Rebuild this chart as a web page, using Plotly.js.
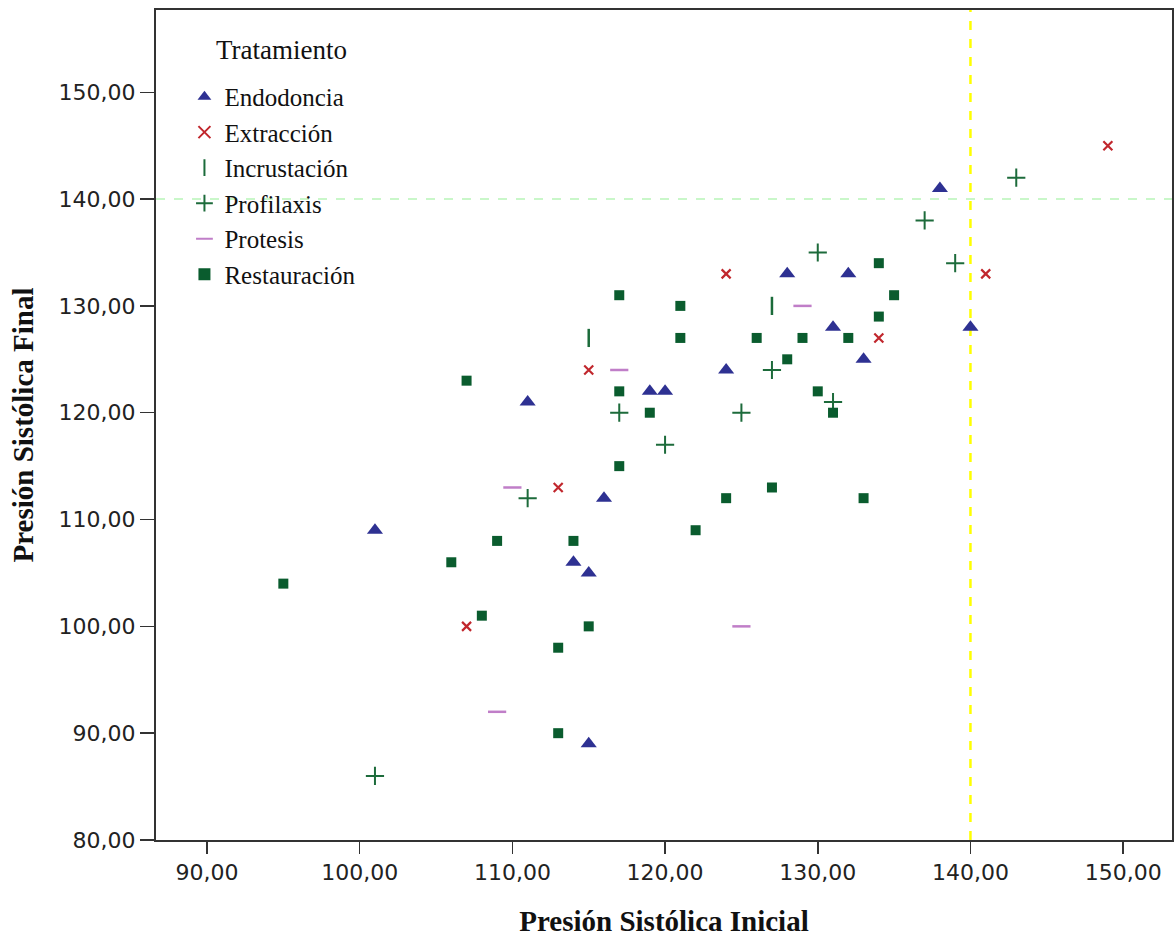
<!DOCTYPE html>
<html>
<head>
<meta charset="utf-8">
<script src="https://cdn.plot.ly/plotly-3.0.1.min.js"></script>
<style>html,body{margin:0;padding:0;background:#fff;}#chart{width:1174px;height:938px;}</style>
</head>
<body>
<div id="chart"></div>
<script>
// Data
const endodonciaX = [101, 111, 114, 115, 115, 116, 119, 120, 124, 128, 131, 132, 133, 138, 140];
const endodonciaY = [109, 121, 106, 105, 89, 112, 122, 122, 124, 133, 128, 133, 125, 141, 128];

const extraccionX = [107, 113, 115, 124, 134, 141, 149];
const extraccionY = [100, 113, 124, 133, 127, 133, 145];

const incrustacionX = [115, 127];
const incrustacionY = [127, 130];

const profilaxisX = [101, 111, 117, 120, 125, 127, 130, 131, 137, 139, 143];
const profilaxisY = [86, 112, 120, 117, 120, 124, 135, 121, 138, 134, 142];

const protesisX = [109, 110, 117, 125, 129];
const protesisY = [92, 113, 124, 100, 130];

const restauracionX = [95, 106, 107, 108, 109, 113, 113, 114, 115, 117, 117, 117, 119, 121, 121, 122, 124, 126, 127, 128, 129, 130, 131, 132, 133, 134, 134, 135];
const restauracionY = [104, 106, 123, 101, 108, 98, 90, 108, 100, 131, 122, 115, 120, 130, 127, 109, 112, 127, 113, 125, 127, 122, 120, 127, 112, 134, 129, 131];

const refX = 140;
const refY = 140;
const legendTitle = 'Tratamiento';

const traces = [
  {name: 'Endodoncia', x: endodonciaX, y: endodonciaY, type: 'scatter', mode: 'markers',
   marker: {symbol: 'triangle-up', size: 14, color: '#2e3192'}},
  {name: 'Extracción', x: extraccionX, y: extraccionY, type: 'scatter', mode: 'markers',
   marker: {symbol: 'x-thin-open', size: 9, line: {color: '#c1272d', width: 2.2}, color: '#c1272d'}},
  {name: 'Incrustación', x: incrustacionX, y: incrustacionY, type: 'scatter', mode: 'markers',
   marker: {symbol: 'line-ns-open', size: 13, line: {color: '#1b6b3a', width: 2.5}, color: '#1b6b3a'}},
  {name: 'Profilaxis', x: profilaxisX, y: profilaxisY, type: 'scatter', mode: 'markers',
   marker: {symbol: 'cross-thin-open', size: 13, line: {color: '#1d6b3b', width: 2}, color: '#1d6b3b'}},
  {name: 'Protesis', x: protesisX, y: protesisY, type: 'scatter', mode: 'markers',
   marker: {symbol: 'line-ew-open', size: 13, line: {color: '#c07ec8', width: 2.5}, color: '#c07ec8'}},
  {name: 'Restauración', x: restauracionX, y: restauracionY, type: 'scatter', mode: 'markers',
   marker: {symbol: 'square', size: 10, color: '#0a5c2e'}}
];

const tickFont = {family: 'DejaVu Sans', size: 22, color: '#222'};
const titleFont = {family: 'Liberation Serif', size: 29, color: '#111', weight: 'bold'};

const layout = {
  width: 1174, height: 938,
  margin: {l: 156, r: 2, t: 10, b: 98},
  paper_bgcolor: '#fff', plot_bgcolor: '#fff',
  separators: ',.',
  showlegend: true,
  xaxis: {
    range: [86.66, 153.2], tickvals: [90, 100, 110, 120, 130, 140, 150], tickformat: '.2f',
    showgrid: false, zeroline: false, showline: true, linecolor: '#333', linewidth: 2, mirror: true,
    ticks: 'outside', ticklen: 12, tickwidth: 1.5, tickcolor: '#333',
    tickfont: tickFont,
    title: {text: 'Presión Sistólica Inicial', font: titleFont, standoff: 26}
  },
  yaxis: {
    range: [80, 157.7], tickvals: [80, 90, 100, 110, 120, 130, 140, 150], tickformat: '.2f',
    showgrid: false, zeroline: false, showline: true, linecolor: '#333', linewidth: 2, mirror: true,
    ticks: 'outside', ticklen: 14, tickwidth: 1.5, tickcolor: '#333',
    tickfont: tickFont,
    title: {text: 'Presión Sistólica Final', font: titleFont, standoff: 16}
  },
  legend: {
    x: 0.028, y: 0.923, xanchor: 'left', yanchor: 'top',
    bgcolor: 'rgba(0,0,0,0)',
    font: {family: 'Liberation Serif', size: 25, color: '#111'},
    itemsizing: 'constant'
  },
  annotations: [
    {text: legendTitle, xref: 'paper', yref: 'paper', x: (281 - 156) / 1016, y: 1 - (50 - 10) / 830,
     xanchor: 'center', yanchor: 'middle', showarrow: false,
     font: {family: 'Liberation Serif', size: 27, color: '#111'}}
  ],
  shapes: [
    {type: 'line', xref: 'x', yref: 'paper', x0: refX, x1: refX, y0: 0, y1: 1,
     line: {color: '#ffff00', width: 2.5, dash: 'dash'}, layer: 'below'},
    {type: 'line', xref: 'paper', yref: 'y', x0: 0, x1: 1, y0: refY, y1: refY,
     line: {color: '#b8f5b8', width: 1.5, dash: 'dash'}, layer: 'below'}
  ]
};

Plotly.newPlot('chart', traces, layout, {displayModeBar: false, staticPlot: true});
</script>
</body>
</html>
